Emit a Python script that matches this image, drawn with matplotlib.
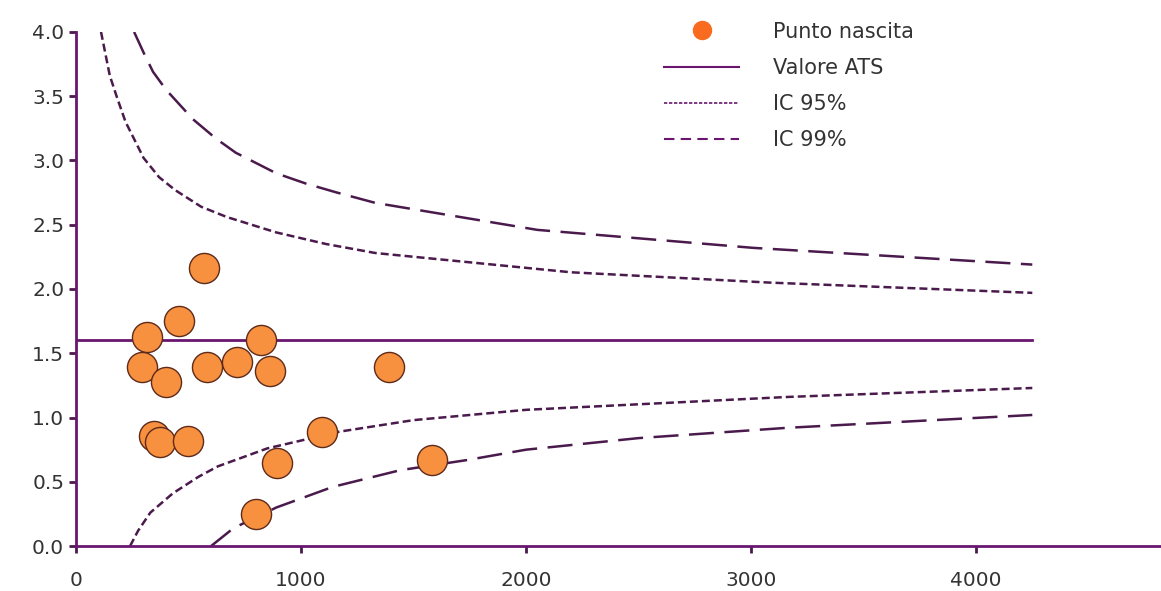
import matplotlib
matplotlib.use('Agg')
import matplotlib.pyplot as plt
from matplotlib.lines import Line2D

plt.rcParams['font.family'] = ['DejaVu Sans']

# punti nascita: volume parti (x) e valore indicatore (y)
punti_x = [316, 458, 569, 293, 400, 582, 716, 822, 862, 1391,
           347, 373, 498, 1093, 893, 800, 1582]
punti_y = [1.63, 1.75, 2.16, 1.39, 1.28, 1.39, 1.43, 1.60, 1.36, 1.39,
           0.86, 0.81, 0.82, 0.89, 0.65, 0.25, 0.67]

valore_ats = 1.60
ats_x = [0, 4250]

# limiti di controllo
ic95_sup_x = [111, 150, 182, 220, 300, 369, 440, 556, 670, 890, 1111, 1330, 2200, 3080, 4250]
ic95_sup_y = [4.0, 3.66, 3.49, 3.30, 3.02, 2.87, 2.77, 2.64, 2.56, 2.44, 2.35, 2.28, 2.13, 2.05, 1.97]
ic99_sup_x = [258, 300, 342, 400, 520, 622, 710, 800, 890, 1022, 1160, 1330, 2050, 3010, 4250]
ic99_sup_y = [4.0, 3.84, 3.69, 3.55, 3.32, 3.17, 3.06, 2.98, 2.90, 2.82, 2.75, 2.67, 2.46, 2.32, 2.19]
ic95_inf_x = [240, 276, 330, 430, 545, 630, 850, 1170, 1500, 2000, 3160, 4250]
ic95_inf_y = [0.0, 0.12, 0.26, 0.41, 0.54, 0.62, 0.76, 0.89, 0.98, 1.06, 1.16, 1.23]
ic99_inf_x = [600, 700, 890, 1140, 1440, 1740, 2000, 2500, 3160, 4250]
ic99_inf_y = [0.0, 0.14, 0.30, 0.46, 0.59, 0.67, 0.75, 0.84, 0.92, 1.02]

viola = '#6a1670'
scuro = '#4a1a4c'
arancio = '#f7913f'

fig = plt.figure(figsize=(11.61, 5.91), dpi=100)
ax = fig.add_axes([0.0655, 0.076, 0.9345, 0.870])

ax.plot(ats_x, [valore_ats, valore_ats], color=viola, lw=2.0, zorder=2)
for xs, ys in [(ic95_sup_x, ic95_sup_y), (ic95_inf_x, ic95_inf_y)]:
    ax.plot(xs, ys, color=scuro, lw=1.8, dashes=(3.2, 1.6), zorder=2)
for xs, ys in [(ic99_sup_x, ic99_sup_y), (ic99_inf_x, ic99_inf_y)]:
    ax.plot(xs, ys, color=scuro, lw=1.8, dashes=(10, 4.2), zorder=2)

ax.scatter(punti_x, punti_y, s=470, color=arancio, edgecolor='#5e2a1a',
           linewidth=1.0, zorder=3)

ax.set_xlim(0, 4822)
ax.set_ylim(0, 4.0)
ax.set_xticks([0, 1000, 2000, 3000, 4000])
ax.set_yticks([0, 0.5, 1.0, 1.5, 2.0, 2.5, 3.0, 3.5, 4.0])
ax.set_yticklabels([f'{v:.1f}' for v in ax.get_yticks()])
for s in ['top', 'right']:
    ax.spines[s].set_visible(False)
for s in ['left', 'bottom']:
    ax.spines[s].set_color(viola)
    ax.spines[s].set_linewidth(2.0)
ax.tick_params(axis='both', direction='out', length=5, width=2,
               color=scuro, labelsize=14.5, labelcolor='#333333')
ax.tick_params(axis='x', pad=13)

handles = [
    Line2D([], [], ls='none', marker='o', ms=13, color='#f96b1f'),
    Line2D([], [], color=viola, lw=1.5),
    Line2D([], [], color=viola, lw=1.2, dashes=(2, 1)),
    Line2D([], [], color=viola, lw=1.5, dashes=(5, 3)),
]
labels = ['Punto nascita', 'Valore ATS', 'IC 95%', 'IC 99%']
fig.legend(handles, labels, loc='upper left', bbox_to_anchor=(0.556, 0.995),
           frameon=False, fontsize=15, handlelength=3.6, handletextpad=1.6,
           labelspacing=0.78, labelcolor='#333333')

fig.savefig('out.png', dpi=100)
